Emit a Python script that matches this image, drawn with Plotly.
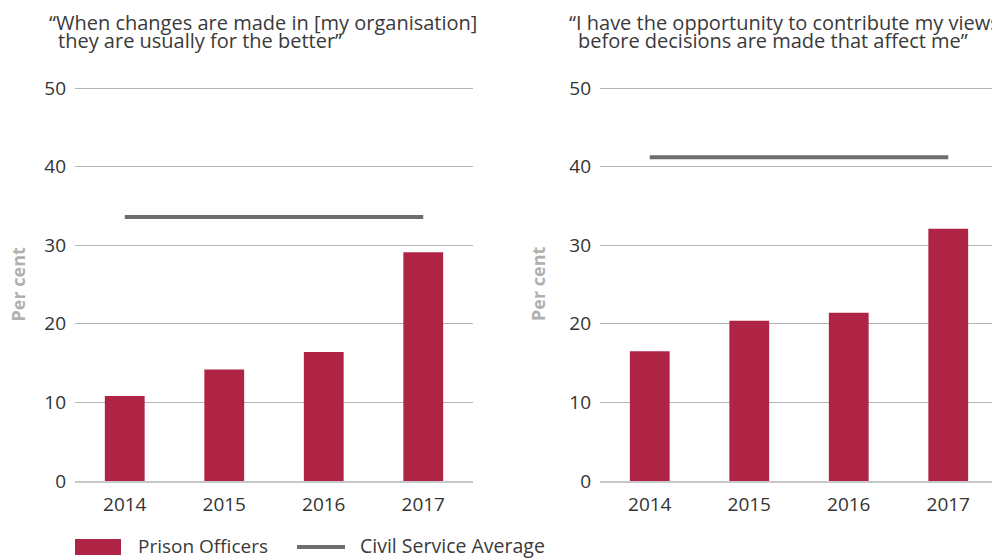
import plotly.graph_objects as go

years = ["2014", "2015", "2016", "2017"]
left_officers = [10.8, 14.2, 16.4, 29.1]
left_cs_avg = [33.6, 33.6, 33.6, 33.6]
right_officers = [16.5, 20.4, 21.4, 32.1]
right_cs_avg = [41.2, 41.2, 41.2, 41.2]
y_ticks = [0, 10, 20, 30, 40, 50]
left_title = ["“When changes are made in [my organisation]", "they are usually for the better”"]
right_title = ["“I have the opportunity to contribute my views", "before decisions are made that affect me”"]

BAR = "#af2444"
LINE = "#6e6e6e"
FONT = "Open Sans"
W, H = 992, 559

def px(x):
    return x / W

def py(y):
    return (H - y) / H

fig = go.Figure()
for xa, ya, off, avg in [("x", "y", left_officers, left_cs_avg), ("x2", "y2", right_officers, right_cs_avg)]:
    fig.add_trace(go.Bar(x=years, y=off, marker=dict(color=BAR, line=dict(width=0)),
                         xaxis=xa, yaxis=ya, name="Prison Officers", showlegend=False))
    fig.add_trace(go.Scatter(x=years, y=avg, mode="lines", line=dict(color=LINE, width=4),
                             xaxis=xa, yaxis=ya, name="Civil Service Average", showlegend=False))

# y: 0 at pixel 481, 50 at pixel 88
unit = (481 - 88) / 50.0
ytop = 50.3
ydom = [py(481), py(481 - ytop * unit)]
yax = dict(range=[0, ytop], tickvals=y_ticks, showgrid=True, gridcolor="#b4b4b4", gridwidth=1,
           zeroline=False, showline=False, ticks="", ticklabelstandoff=8, automargin=False,
           tickfont=dict(family=FONT, size=19, color="#333333"), domain=ydom, fixedrange=True)
xax = dict(type="category", showgrid=False, zeroline=False, showline=True, linecolor="#c8c8c8",
           linewidth=2, ticks="", ticklabelstandoff=5, automargin=False,
           tickfont=dict(family=FONT, size=19, color="#333333"), fixedrange=True)

spacing = (473 - 75) / 4.0
right_end = 3.5 - (600 + 4 * spacing - W) / spacing

fig.update_layout(
    width=W, height=H, margin=dict(l=0, r=0, t=0, b=0, autoexpand=False),
    paper_bgcolor="white", plot_bgcolor="white",
    bargap=0.6, showlegend=False,
    xaxis=dict(xax, domain=[px(75), px(473)], range=[-0.5, 3.5], anchor="y"),
    yaxis=dict(yax, anchor="x"),
    xaxis2=dict(xax, domain=[px(600), 1.0], range=[-0.5, right_end], anchor="y2"),
    yaxis2=dict(yax, anchor="x2"),
)

anns = []
tf = dict(family=FONT, size=20, color="#3a3a3a")
anns.append(dict(text=left_title[0], x=px(47), y=py(22), xref="paper", yref="paper", xanchor="left", yanchor="middle", showarrow=False, font=tf))
anns.append(dict(text=left_title[1], x=px(56), y=py(40), xref="paper", yref="paper", xanchor="left", yanchor="middle", showarrow=False, font=tf))
anns.append(dict(text=right_title[0], x=px(567), y=py(22), xref="paper", yref="paper", xanchor="left", yanchor="middle", showarrow=False, font=tf))
anns.append(dict(text=right_title[1], x=px(576), y=py(40), xref="paper", yref="paper", xanchor="left", yanchor="middle", showarrow=False, font=tf))
for xc in [17.5, 538]:
    anns.append(dict(text="<b>Per cent</b>", x=px(xc), y=py(284), xref="paper", yref="paper", xanchor="center",
                     yanchor="middle", textangle=-90, showarrow=False,
                     font=dict(family=FONT, size=18, color="#b0b0b0")))
lf = dict(family=FONT, size=19.5, color="#3a3a3a")
anns.append(dict(text="Prison Officers", x=px(136), y=py(545.5), xref="paper", yref="paper", xanchor="left", yanchor="middle", showarrow=False, font=dict(lf, size=19)))
anns.append(dict(text="Civil Service Average", x=px(358), y=py(545.5), xref="paper", yref="paper", xanchor="left", yanchor="middle", showarrow=False, font=lf))
fig.update_layout(annotations=anns)

fig.add_shape(type="rect", xref="paper", yref="paper", x0=px(75), x1=px(121), y0=py(555), y1=py(539),
              fillcolor=BAR, line=dict(width=0))
fig.add_shape(type="line", xref="paper", yref="paper", x0=px(297), x1=px(345), y0=py(547), y1=py(547),
              line=dict(color=LINE, width=4))

fig.write_html("out.html", post_script="document.body.style.margin='0';document.body.style.overflow='hidden';",
               config={"displayModeBar": False})
